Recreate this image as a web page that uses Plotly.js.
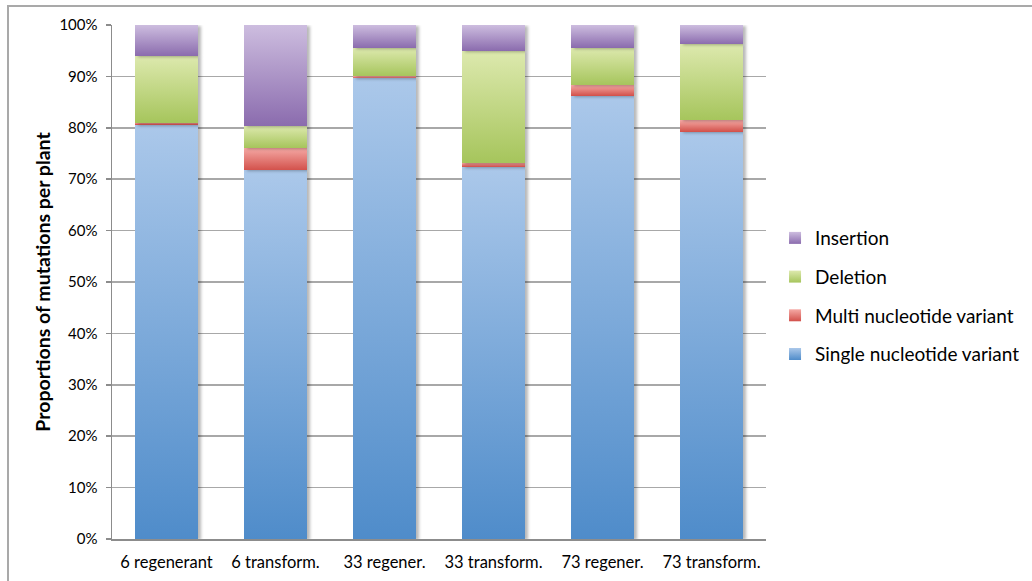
<!DOCTYPE html>
<html>
<head>
<meta charset="utf-8">
<script src="https://cdn.plot.ly/plotly-3.0.1.min.js"></script>
<style>
  html, body { margin: 0; padding: 0; background: #ffffff; }
  #frame {
    position: absolute; left: 7px; top: 5px; width: 1040px; height: 590px;
    border-left: 2px solid #a9a9a9; border-top: 2px solid #a9a9a9;
    box-sizing: border-box;
  }
  #chart { position: absolute; left: 0; top: 0; width: 1032px; height: 581px; }
  .trace.bars .point path { filter: drop-shadow(3px 1px 1.5px rgba(0,0,0,0.28)); }
</style>
</head>
<body>
<div id="frame"></div>
<div id="chart"></div>
<script>
// Plant samples along the x axis
const categories = ['6 regenerant', '6 transform.', '33 regener.', '33 transform.', '73 regener.', '73 transform.'];

// Share of each mutation type per plant (percent)
const singleNucleotide = [80.6, 71.7, 89.6, 72.4, 86.2, 79.2];
const multiNucleotide  = [0.4, 4.4, 0.45, 0.8, 2.1, 2.3];
const deletion         = [13.0, 4.3, 5.5, 21.8, 7.3, 14.8];
const insertion        = [6.0, 19.6, 4.45, 5.0, 4.4, 3.7];

const seriesNames = ['Single nucleotide variant', 'Multi nucleotide variant', 'Deletion', 'Insertion'];
const seriesValues = [singleNucleotide, multiNucleotide, deletion, insertion];

// Base colour plus light/dark stops for the vertical shading of each series
const palette = [
  { base: '#7ba7d9', light: '#abc8ea', dark: '#4f8cca' },
  { base: '#e47b77', light: '#f5a9a5', dark: '#d2504a' },
  { base: '#c2d98a', light: '#dde9ae', dark: '#a6c55c' },
  { base: '#ac94c6', light: '#cdbddf', dark: '#8b6cae' }
];

const FONT = 'Lato, "Open Sans", "DejaVu Sans", sans-serif';

const traces = seriesNames.map((name, i) => ({
  type: 'bar',
  name: name,
  x: categories,
  y: seriesValues[i],
  legendgroup: 'g' + i,
  legendrank: seriesNames.length - i,
  marker: { color: palette[i].base, line: { width: 0 } },
  hoverinfo: 'skip'
}));

const layout = {
  width: 1032,
  height: 581,
  margin: { l: 112, r: 266, t: 25, b: 42 },
  paper_bgcolor: 'rgba(0,0,0,0)',
  plot_bgcolor: 'rgba(0,0,0,0)',
  barmode: 'stack',
  bargap: 0.42,
  font: { family: FONT, color: '#000000', size: 16 },
  showlegend: true,
  legend: {
    xref: 'container', yref: 'container',
    x: 0.751, y: 0.623, xanchor: 'left', yanchor: 'top',
    traceorder: 'grouped',
    tracegroupgap: 11,
    font: { family: FONT, size: 19, color: '#000000' },
    bgcolor: 'rgba(0,0,0,0)'
  },
  xaxis: {
    type: 'category',
    showgrid: false,
    showline: true,
    linecolor: '#8c8c8c',
    linewidth: 1.5,
    ticks: '',
    ticklabelstandoff: 8,
    tickfont: { family: FONT, size: 16.5, color: '#000000' },
    fixedrange: true
  },
  yaxis: {
    range: [0, 100],
    dtick: 10,
    ticksuffix: '%',
    showgrid: true,
    gridcolor: '#a8a8a8',
    gridwidth: 1.5,
    showline: true,
    linecolor: '#8c8c8c',
    linewidth: 1.5,
    ticks: 'outside',
    ticklen: 5,
    tickcolor: '#8c8c8c',
    tickwidth: 1.5,
    ticklabelstandoff: 5,
    zeroline: false,
    tickfont: { family: FONT, size: 15, color: '#000000' },
    title: {
      text: '<b>Proportions of mutations per plant</b>',
      font: { family: FONT, size: 19.5, color: '#000000' },
      standoff: 3
    },
    fixedrange: true
  }
};

// Vertical shading for bar segments and legend swatches
function applyShading(gd) {
  const svg = gd.querySelector('.main-svg');
  if (!svg) return;
  let defs = svg.querySelector('defs#shade-defs');
  if (!defs) {
    defs = document.createElementNS('http://www.w3.org/2000/svg', 'defs');
    defs.setAttribute('id', 'shade-defs');
    palette.forEach((p, i) => {
      const g = document.createElementNS('http://www.w3.org/2000/svg', 'linearGradient');
      g.setAttribute('id', 'shade' + i);
      g.setAttribute('x1', '0'); g.setAttribute('y1', '0');
      g.setAttribute('x2', '0'); g.setAttribute('y2', '1');
      [['0', p.light], ['1', p.dark]].forEach(([o, c]) => {
        const s = document.createElementNS('http://www.w3.org/2000/svg', 'stop');
        s.setAttribute('offset', o);
        s.setAttribute('stop-color', c);
        g.appendChild(s);
      });
      defs.appendChild(g);
    });
    svg.insertBefore(defs, svg.firstChild);
  }
  gd.querySelectorAll('.barlayer .trace.bars').forEach((t, i) => {
    t.querySelectorAll('.point path').forEach(p => { p.style.fill = 'url(#shade' + i + ')'; });
  });
  gd.querySelectorAll('.legend .traces').forEach(t => {
    const d = t.__data__;
    const idx = d && d[0] && d[0].trace ? d[0].trace.index : null;
    if (idx === null) return;
    t.querySelectorAll('.legendpoints path').forEach(p => { p.style.fill = 'url(#shade' + idx + ')'; });
  });
}

const gd = document.getElementById('chart');
Plotly.newPlot(gd, traces, layout, { displayModeBar: false, staticPlot: true }).then(() => {
  applyShading(gd);
  gd.on('plotly_afterplot', () => applyShading(gd));
});
</script>
</body>
</html>
